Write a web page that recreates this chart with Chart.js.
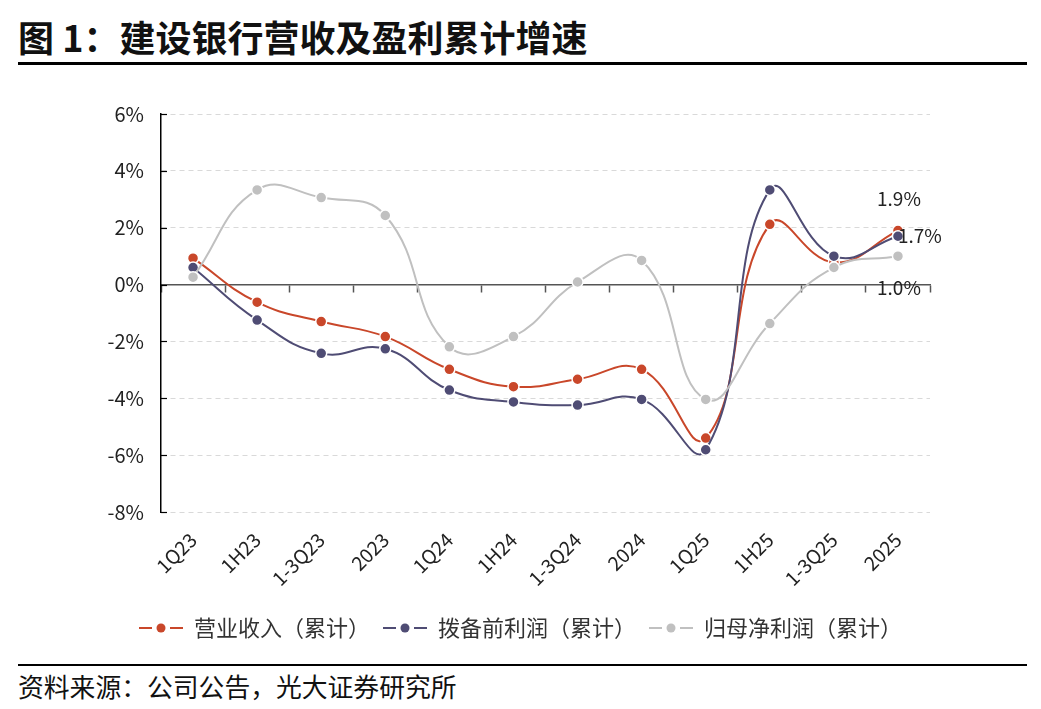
<!DOCTYPE html>
<html>
<head>
<meta charset="utf-8">
<script src="https://cdn.jsdelivr.net/npm/chart.js@4.4.1/dist/chart.umd.min.js"></script>
<style>
  html, body { margin: 0; padding: 0; background: #fff; }
  body { width: 1041px; height: 709px; position: relative; overflow: hidden;
         font-family: "Noto Sans CJK SC", "Noto Sans", sans-serif; color: #111; }
  #title { position: absolute; left: 18px; top: 11px; font-size: 36px; font-weight: bold; line-height: 50px; white-space: nowrap; }
  #rule1 { position: absolute; left: 18px; top: 62px; width: 1009px; height: 3px; background: #000; }
  #rule2 { position: absolute; left: 18px; top: 664px; width: 1009px; height: 2px; background: #000; }
  #source { position: absolute; left: 18px; top: 669px; font-size: 25.8px; line-height: 34px; white-space: nowrap; color: #111; }
  #wrap { position: absolute; left: 0; top: 80px; width: 1041px; height: 569px; }
</style>
</head>
<body>
<div id="title">图 1：建设银行营收及盈利累计增速</div>
<div id="rule1"></div>
<div id="wrap"><canvas id="c"></canvas></div>
<div id="rule2"></div>
<div id="source">资料来源：公司公告，光大证券研究所</div>
<script>
const categories = ['1Q23','1H23','1-3Q23','2023','1Q24','1H24','1-3Q24','2024','1Q25','1H25','1-3Q25','2025'];
const revenue     = [0.93, -0.62, -1.30, -1.83, -2.98, -3.59, -3.33, -2.98, -5.40, 2.12, 0.78, 1.9];
const preProvision= [0.60, -1.25, -2.42, -2.26, -3.71, -4.13, -4.24, -4.04, -5.81, 3.33, 1.00, 1.7];
const netProfit   = [0.26, 3.33, 3.06, 2.43, -2.19, -1.83, 0.09, 0.85, -4.04, -1.37, 0.60, 1.0];
const seriesNames = ['营业收入（累计）', '拨备前利润（累计）', '归母净利润（累计）'];
const yTicks = [6, 4, 2, 0, -2, -4, -6, -8];

const colors = ['#C9472A', '#4F4C74', '#C0C0C0'];
const FONT = '"Noto Sans CJK SC", "Noto Sans", sans-serif';

function legendSymbol(color) {
  const cv = document.createElement('canvas');
  cv.width = 44; cv.height = 12;
  const g = cv.getContext('2d');
  g.strokeStyle = color; g.lineWidth = 2;
  g.beginPath(); g.moveTo(0, 6); g.lineTo(13, 6); g.moveTo(31, 6); g.lineTo(44, 6); g.stroke();
  g.fillStyle = color; g.beginPath(); g.arc(22, 6, 4.5, 0, Math.PI * 2); g.fill();
  return cv;
}
const symbols = colors.map(legendSymbol);

const endLabels = {
  id: 'endLabels',
  afterDatasetsDraw(chart, args, opts) {
    const ctx = chart.ctx;
    ctx.save();
    ctx.font = '19px ' + FONT;
    ctx.fillStyle = '#222';
    ctx.textBaseline = 'middle';
    chart.data.datasets.forEach((ds, i) => {
      const meta = chart.getDatasetMeta(i);
      const pt = meta.data[meta.data.length - 1];
      const v = ds.data[ds.data.length - 1];
      const o = opts.offsets[i];
      ctx.textAlign = o.align;
      ctx.fillText(v.toFixed(1) + '%', pt.x + o.dx, pt.y + o.dy);
    });
    ctx.restore();
  }
};

const yInnerTicks = {
  id: 'yInnerTicks',
  afterDraw(chart) {
    const y = chart.scales.y, ctx = chart.ctx, left = chart.chartArea.left;
    ctx.save();
    ctx.strokeStyle = '#000'; ctx.lineWidth = 1.2;
    y.ticks.forEach(t => {
      const py = Math.round(y.getPixelForValue(t.value)) + 0.5;
      ctx.beginPath(); ctx.moveTo(left, py); ctx.lineTo(left + 6, py); ctx.stroke();
    });
    ctx.restore();
  }
};

const mk = (label, data, color, order) => ({
  label, data, order,
  borderColor: color, backgroundColor: color,
  borderWidth: 2, tension: 0.45,
  pointRadius: 5.5, pointHoverRadius: 5.5,
  pointBackgroundColor: color, pointBorderColor: '#fff', pointBorderWidth: 1.5
});

new Chart(document.getElementById('c'), {
  type: 'line',
  data: {
    labels: categories,
    datasets: [
      mk(seriesNames[0], revenue, colors[0], 3),
      mk(seriesNames[1], preProvision, colors[1], 2),
      mk(seriesNames[2], netProfit, colors[2], 1)
    ]
  },
  plugins: [endLabels, yInnerTicks],
  options: {
    responsive: true, maintainAspectRatio: false, animation: false,
    layout: { padding: { left: 0, right: 0, top: 34, bottom: 0 } },
    plugins: {
      tooltip: { enabled: false },
      endLabels: { offsets: [
        { dx: 1, dy: -32, align: 'center' },
        { dx: 0, dy: 0, align: 'left' },
        { dx: 1, dy: 32, align: 'center' }
      ] },
      legend: {
        position: 'bottom',
        labels: {
          usePointStyle: true, pointStyleWidth: 44, boxHeight: 12,
          padding: 13, color: '#333',
          font: { size: 22, family: FONT },
          sort: (a, b) => a.datasetIndex - b.datasetIndex,
          generateLabels(chart) {
            const items = Chart.defaults.plugins.legend.labels.generateLabels(chart);
            items.forEach(it => { it.pointStyle = symbols[it.datasetIndex]; });
            return items;
          }
        }
      }
    },
    scales: {
      x: {
        type: 'category', position: 'bottom', offset: true,
        grid: { display: false, offset: true }, border: { display: false },
        ticks: { minRotation: 45, maxRotation: 45, padding: 8, color: '#222', font: { size: 19.5, family: FONT } },
        afterFit(s) { s.height = 92; }
      },
      x0: {
        type: 'category', position: { y: 0 }, offset: true,
        grid: { display: true, drawOnChartArea: false, drawTicks: true, tickLength: 7, offset: true, tickColor: '#555', tickWidth: 1.5 },
        border: { display: true, color: '#555', width: 1.5 },
        ticks: { display: false }
      },
      y: {
        min: -8, max: 6,
        afterBuildTicks(s) { s.ticks = yTicks.slice().reverse().map(v => ({ value: v })); },
        afterFit(s) { s.width = 161; },
        grid: { color: '#D9D9D9', lineWidth: 1, drawTicks: false },
        border: { display: true, color: '#000', width: 1.5, dash: [5, 4] },
        ticks: { padding: 17, color: '#222', font: { size: 20, family: FONT }, callback: v => v + '%' }
      },
      yRight: {
        position: 'right', min: -8, max: 6,
        grid: { display: false, drawTicks: false }, border: { display: false },
        ticks: { display: false },
        afterFit(s) { s.width = 111; }
      }
    }
  }
});
</script>
</body>
</html>
